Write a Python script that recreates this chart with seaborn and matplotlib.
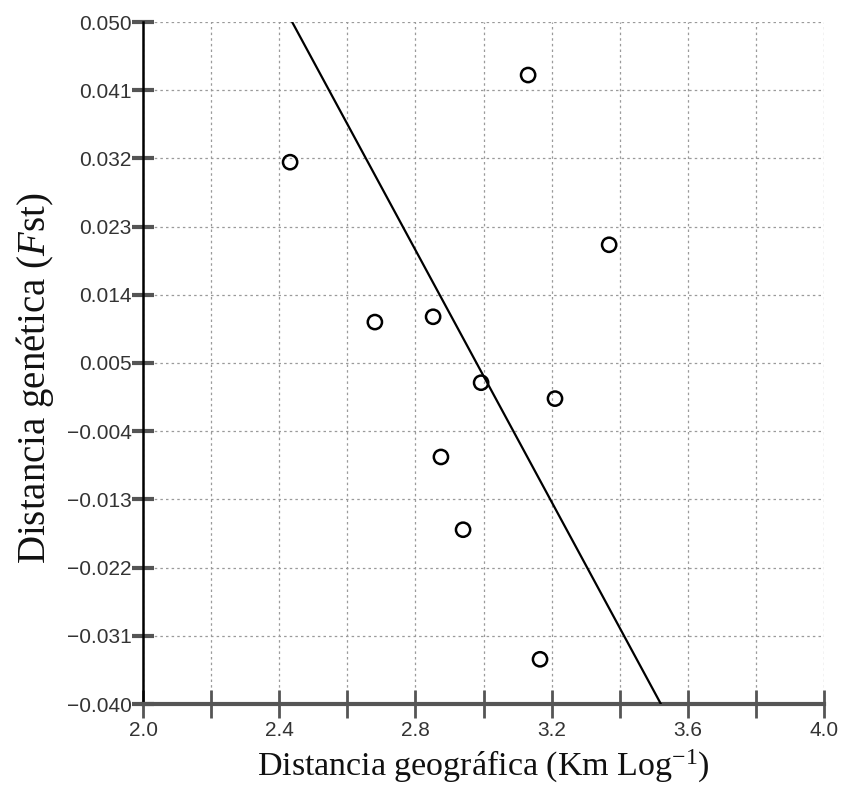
import matplotlib
matplotlib.use("Agg")
import matplotlib.pyplot as plt
import seaborn as sns
import numpy as np

# Data
geo_dist = [2.432, 3.131, 3.369, 2.681, 2.852, 2.993, 3.210, 2.875, 2.940, 3.166]
gen_dist = [0.0315, 0.0430, 0.0206, 0.0104, 0.0111, 0.0024, 0.0003, -0.0074, -0.0170, -0.0341]

# Regression line endpoints
line_x = [2.438, 3.521]
line_y = [0.050, -0.040]

xticks = [2.0, 2.2, 2.4, 2.6, 2.8, 3.0, 3.2, 3.4, 3.6, 3.8, 4.0]
xtick_labels = ["2.0", "", "2.4", "", "2.8", "", "3.2", "", "3.6", "", "4.0"]
yticks = [-0.040, -0.031, -0.022, -0.013, -0.004, 0.005, 0.014, 0.023, 0.032, 0.041, 0.050]
ytick_labels = ["\u22120.040", "\u22120.031", "\u22120.022", "\u22120.013", "\u22120.004",
                "0.005", "0.014", "0.023", "0.032", "0.041", "0.050"]

sns.set_style("white")
plt.rcParams['font.family'] = ['Liberation Sans', 'DejaVu Sans']
plt.rcParams['mathtext.fontset'] = 'custom'
plt.rcParams['mathtext.rm'] = 'Liberation Serif'
plt.rcParams['mathtext.it'] = 'Liberation Serif:italic'

fig = plt.figure(figsize=(8.42, 7.86), dpi=100)
ax = fig.add_axes([143/842, 82/786, 681/842, 682/786])

ax.set_xlim(2.0, 4.0)
ax.set_ylim(-0.040, 0.050)

sns.lineplot(x=line_x, y=line_y, ax=ax, color="black", linewidth=1.6, sort=False, zorder=3)
sns.scatterplot(x=geo_dist, y=gen_dist, ax=ax, marker="o", s=105, facecolor="none",
                edgecolor="black", linewidth=1.8, zorder=4)

ax.set_xticks(xticks)
ax.set_xticklabels(xtick_labels)
ax.set_yticks(yticks)
ax.set_yticklabels(ytick_labels)

ax.grid(True, color="#9a9a9a", linestyle=(0, (2, 2.5)), linewidth=0.9)
ax.set_axisbelow(True)

for s in ["top", "right"]:
    ax.spines[s].set_visible(False)
ax.spines["left"].set_color("black")
ax.spines["left"].set_linewidth(1.8)
ax.spines["bottom"].set_color("#555555")
ax.spines["bottom"].set_linewidth(3.0)

ax.tick_params(axis="x", bottom=True, direction="inout", length=20, width=2, color="#555555",
               labelsize=15, labelcolor="#333333", pad=2)
ax.tick_params(axis="y", left=True, direction="inout", length=16, width=3, color="#555555",
               labelsize=15, labelcolor="#333333", pad=0)

ax.set_xlabel("Distancia geográfica (Km Log$^{\\mathrm{-1}}$)", family="Liberation Serif",
              fontsize=24.5, color="#111111", labelpad=6)
ax.set_ylabel("Distancia genética ($\\mathit{F}$st)", family="Liberation Serif",
              fontsize=28, color="#111111")
ax.yaxis.set_label_coords(-0.128, 0.478)

fig.savefig("out.png", dpi=100, facecolor="white")
